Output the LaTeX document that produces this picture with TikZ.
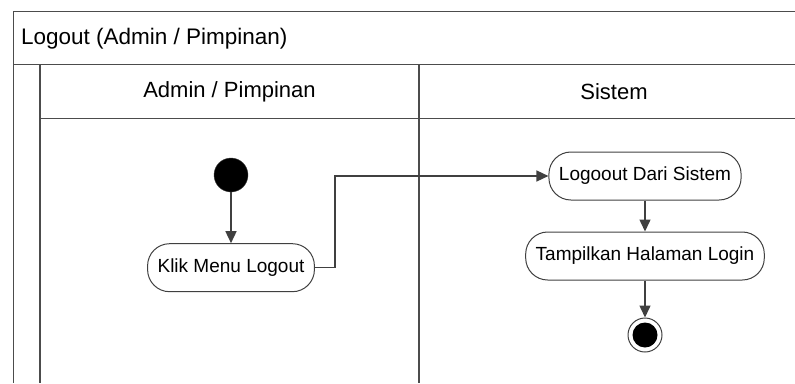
\documentclass[tikz,border=0pt]{standalone}
\usepackage{fontspec}
\setmainfont{Liberation Sans}
\usetikzlibrary{positioning,arrows.meta}

\tikzset{
  lane/.style={draw=black!70, line width=1.5pt},
  heading/.style={font=\fontsize{22}{26}\selectfont},
  action/.style={draw=black!75, line width=1pt, rounded corners=22pt, minimum height=48pt, inner xsep=10pt, font=\fontsize{19}{22}\selectfont},
  initial/.style={circle, fill=black, draw=black!75, minimum size=34pt, inner sep=0pt},
  final/.style={circle, draw=black!75, line width=1pt, minimum size=34pt, inner sep=0pt, path picture={\fill (path picture bounding box.center) circle (12.5pt);}},
  flow/.style={draw=black!75, line width=1.5pt, -{Triangle[length=12pt,width=11pt]}}
}

\begin{document}
\begin{tikzpicture}[x=1pt,y=-1pt]
      \useasboundingbox (0,0) rectangle (795,383);
      \draw[lane] (795,11.5) -- (13.5,11.5) -- (13.5,383);
      \draw[lane] (13.5,64.5) -- (795,64.5);
      \draw[lane] (40,64.5) -- (40,383);
      \draw[lane] (40,118.5) -- (795,118.5);
      \draw[lane] (419,64.5) -- (419,383);

      \node[heading, anchor=west, font=\fontsize{22.5}{26}\selectfont] (title) at (17.5,38.5) {Logout (Admin / Pimpinan)};
      \node[heading] (lane1) at (229.5,91.5) {Admin / Pimpinan};
      \node[heading] (lane2) at (614,91.5) {Sistem};

      \node[initial] (i1) at (231,175) {};
      \node[action, below=51pt of i1] (a1) {Klik Menu Logout};
      \node[action] (a2) at (645,176) {Logoout Dari Sistem};
      \node[action, below=31pt of a2] (a3) {Tampilkan Halaman Login};
      \node[final, below=37pt of a3] (f1) {};

      \draw[flow] (i1) -- (a1);
      \draw[flow] (a1.east) -- ++(20,0) |- (a2.west);
      \draw[flow] (a2) -- (a3);
      \draw[flow] (a3) -- (f1);
    \end{tikzpicture}
\end{document}
